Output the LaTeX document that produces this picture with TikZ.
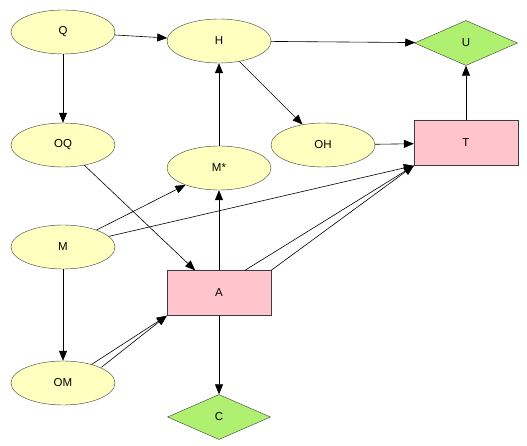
\documentclass[tikz,border=0pt]{standalone}
\usepackage{fontspec}
\setmainfont{Liberation Sans}
\usetikzlibrary{shapes.geometric,arrows.meta}
\definecolor{chance}{RGB}{255,255,192}
\definecolor{decision}{RGB}{255,196,204}
\definecolor{utility}{RGB}{176,240,112}
\definecolor{edge}{RGB}{60,60,60}
\begin{document}
\begin{tikzpicture}[x=1pt, y=-1pt, font=\fontsize{11.5}{13}\selectfont,
  chance/.style = {shape=ellipse, draw=edge, fill=chance, inner sep=0pt, minimum width=104pt, minimum height=44pt},
  decision/.style = {shape=rectangle, draw=edge, fill=decision, inner sep=0pt, minimum width=104pt, minimum height=45pt},
  utility/.style = {shape=diamond, draw=edge, fill=utility, inner sep=0pt, aspect=2.3, minimum width=103pt, minimum height=45pt},
  arr/.style = {draw=black, line width=0.6pt, -{Triangle[length=10pt,width=8pt]}}]
	\useasboundingbox (0,0) rectangle (527,446);
	\node[chance] (Q) at (63,32) {Q};
	\node[chance] (H) at (219,41) {H};
	\node[utility] (U) at (466,43) {U};
	\node[chance] (OQ) at (63,145) {OQ};
	\node[chance] (Mstar) at (219,168) {M*};
	\node[chance] (OH) at (323,145) {OH};
	\node[decision] (T) at (466,143) {T};
	\node[chance] (M) at (63,247) {M};
	\node[decision] (A) at (219,293) {A};
	\node[chance] (OM) at (63,383) {OM};
	\node[utility] (C) at (219,417) {C};
	\draw[arr] (Q) -- (H);
	\draw[arr] (Q) -- (OQ);
	\draw[arr] (H) -- (U);
	\draw[arr] (H) -- (OH);
	\draw[arr] (Mstar) -- (H);
	\draw[arr] (OH) -- (T);
	\draw[arr] (T) -- (U);
	\draw[arr] (OQ) -- (A);
	\draw[arr] (M) -- (Mstar);
	\draw[arr] (M) -- (T.south west);
	\draw[arr] (M) -- (OM);
	\draw[arr] (A) -- (Mstar);
	\draw[arr] ([xshift=26pt]A.north) -- (T.south west);
	\draw[arr] (A.north east) -- (T.south west);
	\draw[arr] (OM) -- (A.south west);
	\draw[arr] ([xshift=1.5pt]OM.north east) -- (A.south west);
	\draw[arr] (A) -- (C);
\end{tikzpicture}
\end{document}
